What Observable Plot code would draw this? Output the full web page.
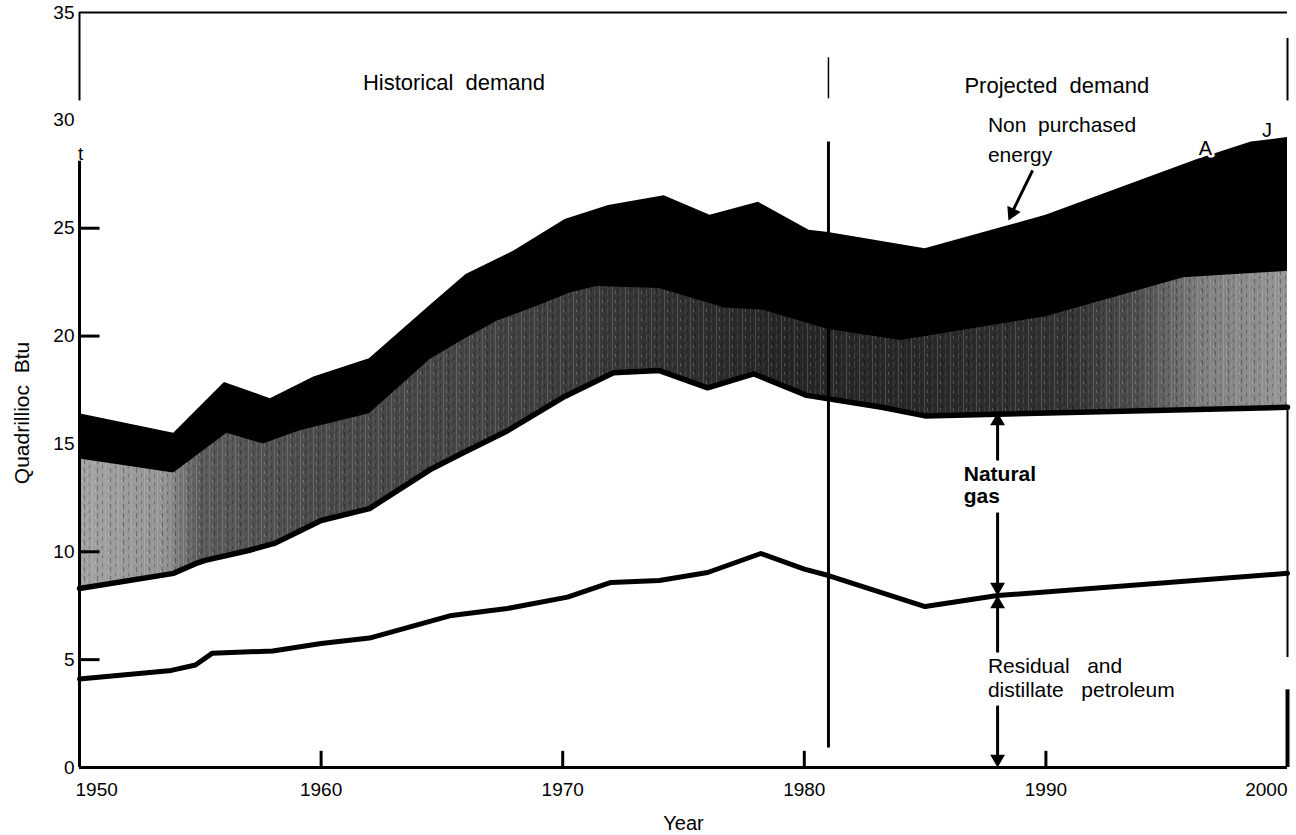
<!DOCTYPE html>
<html>
<head>
<meta charset="utf-8">
<script src="https://cdn.jsdelivr.net/npm/d3@7"></script>
<script src="https://cdn.jsdelivr.net/npm/@observablehq/plot@0.6"></script>
<style>
  html, body { margin: 0; padding: 0; background: #fff; }
  svg { display: block; }
</style>
</head>
<body>
<div id="chart"></div>
<script>
// ---- Data ----
// Total demand (top of the black "non purchased energy" band)
const totalYears  = [1950, 1953.9, 1956, 1957.9, 1959.7, 1962, 1964.5, 1966, 1968, 1970.1, 1971.9, 1974.2, 1976.1, 1978.1, 1980.2, 1981, 1985, 1988.4, 1990, 1996.3, 1998.5, 2000];
const totalValues = [16.4, 15.5, 17.85, 17.1, 18.1, 18.95, 21.4, 22.85, 23.95, 25.4, 26.05, 26.5, 25.6, 26.2, 24.9, 24.8, 24.05, 25.1, 25.6, 28.2, 29.0, 29.2];

// Top of the grey (stippled) band
const greyYears  = [1950, 1953.9, 1956.1, 1957.6, 1959.1, 1962, 1964.5, 1966, 1967.3, 1969, 1970.3, 1971.4, 1974, 1976.7, 1978.3, 1981, 1984, 1990, 1995.7, 2000];
const greyValues = [14.3, 13.65, 15.5, 15.0, 15.6, 16.4, 18.9, 19.9, 20.7, 21.4, 22.0, 22.3, 22.2, 21.3, 21.2, 20.3, 19.8, 20.9, 22.7, 23.0];

// Top of natural gas band
const gasYears  = [1950, 1953.9, 1954.8, 1955.2, 1957, 1958.1, 1960, 1962, 1964.5, 1965.9, 1967.7, 1970, 1972.1, 1974, 1976, 1977.9, 1980.1, 1983.2, 1985, 2000];
const gasValues = [8.3, 9.0, 9.45, 9.6, 10.06, 10.4, 11.45, 12.0, 13.8, 14.6, 15.6, 17.15, 18.3, 18.4, 17.6, 18.25, 17.25, 16.7, 16.3, 16.7];

// Top of residual and distillate petroleum
const petroYears  = [1950, 1953.8, 1954.8, 1955.5, 1958, 1960, 1962, 1965.4, 1967.7, 1970.2, 1972, 1974, 1976, 1978.2, 1980, 1981, 1985, 1988, 2000];
const petroValues = [4.1, 4.5, 4.75, 5.3, 5.4, 5.75, 6.0, 7.05, 7.37, 7.9, 8.58, 8.67, 9.04, 9.92, 9.2, 8.9, 7.46, 7.97, 9.0];

const yTickLabels = [0, 5, 10, 15, 20, 25, 30, 35];
const yTickMarks  = [5, 10, 15, 20, 25];
const xTickLabelsMid = [1960, 1970, 1980, 1990];
const xTickFirst = [1950];
const xTickLast  = [2000];
const xTickMarks = [1960, 1970, 1980, 1990];
const dividerYear = [1981];
const arrowYear = 1988;

// ---- Tables built from the arrays ----
const total = totalYears.map((x, i) => ({x, y: totalValues[i]}));
const grey  = greyYears.map((x, i) => ({x, y: greyValues[i]}));
const gas   = gasYears.map((x, i) => ({x, y: gasValues[i]}));
const petro = petroYears.map((x, i) => ({x, y: petroValues[i]}));

const font = "'Liberation Sans', Arial, Helvetica, sans-serif";
const yr = d => String(d);

const chart = Plot.plot({
  width: 1296,
  height: 835,
  marginLeft: 79,
  marginRight: 9,
  marginTop: 12,
  marginBottom: 68,
  x: {domain: [1950, 2000], axis: null},
  y: {domain: [0, 35], axis: null},
  style: {fontFamily: font, fontSize: "19px", color: "#000", background: "#fff"},
  marks: [
    // bands
    Plot.areaY(total, {x: "x", y1: 0, y2: "y", fill: "#000"}),
    Plot.areaY(grey,  {x: "x", y1: 0, y2: "y", fill: "url(#greyband)"}),
    Plot.areaY(grey,  {x: "x", y1: 0, y2: "y", fill: "url(#streaks)"}),
    Plot.areaY(gas,   {x: "x", y1: 0, y2: "y", fill: "#fff"}),
    Plot.lineY(gas,   {x: "x", y: "y", stroke: "#000", strokeWidth: 5.5, strokeLinejoin: "round"}),
    Plot.lineY(petro, {x: "x", y: "y", stroke: "#000", strokeWidth: 5, strokeLinejoin: "round"}),

    // frame pieces
    Plot.ruleY([0],  {stroke: "#000", strokeWidth: 3}),
    Plot.ruleY([35], {stroke: "#000", strokeWidth: 2}),
    Plot.ruleX([1950], {y1: 0, y2: 28.1, stroke: "#000", strokeWidth: 3}),
    Plot.ruleX([1950], {y1: 30.9, y2: 35, stroke: "#000", strokeWidth: 2}),
    Plot.ruleX([2000], {y1: 0, y2: 3.6, stroke: "#000", strokeWidth: 4}),
    Plot.ruleX([2000], {y1: 5.1, y2: 16.7, stroke: "#000", strokeWidth: 2}),
    Plot.ruleX([2000], {y1: 30.9, y2: 33.8, stroke: "#000", strokeWidth: 2}),
    Plot.ruleX(dividerYear, {y1: 0.9, y2: 29.0, stroke: "#000", strokeWidth: 3}),
    Plot.ruleX(dividerYear, {y1: 31.0, y2: 32.9, stroke: "#000", strokeWidth: 1.5}),

    // ticks
    Plot.ruleY(yTickMarks, {y: d => d, x1: 1950, x2: 1950.85, stroke: "#000", strokeWidth: 3}),
    Plot.ruleX(xTickMarks, {x: d => d, y1: 0, y2: 0.75, stroke: "#000", strokeWidth: 3}),

    // y tick labels
    Plot.text(yTickLabels, {y: d => d, text: yr, frameAnchor: "left", dx: -5, textAnchor: "end", fontSize: 19}),
    // x tick labels
    Plot.text(xTickLabelsMid, {x: d => d, text: yr, frameAnchor: "bottom", dy: 22, lineAnchor: "middle", textAnchor: "middle", fontSize: 19}),
    Plot.text(xTickFirst, {x: d => d, text: yr, frameAnchor: "bottom", dy: 22, dx: -4, lineAnchor: "middle", textAnchor: "start", fontSize: 19}),
    Plot.text(xTickLast, {x: d => d, text: yr, frameAnchor: "bottom", dy: 22, lineAnchor: "middle", textAnchor: "end", fontSize: 19}),
    // axis titles
    Plot.text(["Year"], {frameAnchor: "bottom", dy: 56, lineAnchor: "middle", textAnchor: "middle", fontSize: 20}),
    Plot.text(["Quadrillioc  Btu"], {frameAnchor: "left", dx: -57, dy: 23, rotate: -90, lineAnchor: "middle", textAnchor: "middle", fontSize: 21}),

    // section headings
    Plot.text(["Historical  demand"], {x: 1965.5, y: 31.39, lineAnchor: "bottom", fontSize: 22}),
    Plot.text(["Projected  demand"], {x: 1990.45, y: 31.29, lineAnchor: "bottom", fontSize: 22}),

    // annotations
    Plot.text(["Non  purchased"], {x: 1987.6, y: 29.44, lineAnchor: "bottom", textAnchor: "start", fontSize: 21}),
    Plot.text(["energy"], {x: 1987.6, y: 28.05, lineAnchor: "bottom", textAnchor: "start", fontSize: 21}),
    Plot.text(["Natural"], {x: 1986.6, y: 13.3, lineAnchor: "bottom", textAnchor: "start", fontSize: 21, fontWeight: "bold"}),
    Plot.text(["gas"], {x: 1986.6, y: 12.24, lineAnchor: "bottom", textAnchor: "start", fontSize: 21, fontWeight: "bold"}),
    Plot.text(["Residual   and"], {x: 1987.6, y: 4.4, lineAnchor: "bottom", textAnchor: "start", fontSize: 21}),
    Plot.text(["distillate   petroleum"], {x: 1987.6, y: 3.25, lineAnchor: "bottom", textAnchor: "start", fontSize: 21}),
    Plot.text(["A"], {x: 1996.6, y: 28.4, lineAnchor: "bottom", fontSize: 20, stroke: "#fff", strokeWidth: 5, fill: "#000"}),
    Plot.text(["J"], {x: 1999.15, y: 29.25, lineAnchor: "bottom", fontSize: 20}),
    Plot.text(["t"], {x: 1950.05, y: 28.14, lineAnchor: "bottom", fontSize: 19}),

    // arrows: shafts
    Plot.link([0], {x1: 1989.45, y1: 27.68, x2: 1988.5, y2: 25.5, stroke: "#000", strokeWidth: 3}),
    Plot.link([0], {x1: arrowYear, y1: 14.23, x2: arrowYear, y2: 16.0, stroke: "#000", strokeWidth: 3}),
    Plot.link([0], {x1: arrowYear, y1: 11.82, x2: arrowYear, y2: 8.4, stroke: "#000", strokeWidth: 3}),
    Plot.link([0], {x1: arrowYear, y1: 5.33, x2: arrowYear, y2: 7.5, stroke: "#000", strokeWidth: 3}),
    Plot.link([0], {x1: arrowYear, y1: 2.87, x2: arrowYear, y2: 0.4, stroke: "#000", strokeWidth: 3}),
    // arrows: heads
    Plot.dot([16.46, 7.97], {x: arrowYear, y: d => d, symbol: "triangle", r: 5.5, fill: "#000", stroke: "none", dy: 8.5}),
    Plot.dot([7.97, 0], {x: arrowYear, y: d => d, symbol: "triangle", r: 5.5, fill: "#000", stroke: "none", dy: -8.5, rotate: 180}),
    Plot.dot([25.36], {x: 1988.45, y: d => d, symbol: "triangle", r: 5.5, fill: "#000", stroke: "none", dx: 3.7, dy: -7.7, rotate: 205.7})
  ]
});

// gradient and streak texture used by the grey band
const svg = d3.select(chart);
const defs = svg.insert("defs", ":first-child");
const grad = defs.append("linearGradient").attr("id", "greyband")
  .attr("x1", 0).attr("x2", 1).attr("y1", 0).attr("y2", 0);
[[0, "#a2a2a2"], [0.07, "#949494"], [0.1, "#5a5a5a"], [0.2, "#4a4a4a"], [0.32, "#454545"],
 [0.45, "#363636"], [0.58, "#262626"], [0.72, "#2a2a2a"], [0.82, "#323232"], [0.88, "#505050"],
 [0.93, "#7e7e7e"], [1, "#959595"]]
  .forEach(([o, c]) => grad.append("stop").attr("offset", o).attr("stop-color", c));
const pat = defs.append("pattern").attr("id", "streaks").attr("patternUnits", "userSpaceOnUse")
  .attr("width", 13).attr("height", 9);
pat.append("rect").attr("x", 1).attr("y", 0).attr("width", 1).attr("height", 9).attr("fill", "#fff").attr("opacity", 0.16);
pat.append("rect").attr("x", 4).attr("y", 3).attr("width", 1).attr("height", 3).attr("fill", "#fff").attr("opacity", 0.22);
pat.append("rect").attr("x", 6).attr("y", 0).attr("width", 1).attr("height", 5).attr("fill", "#000").attr("opacity", 0.3);
pat.append("rect").attr("x", 9).attr("y", 2).attr("width", 1).attr("height", 6).attr("fill", "#fff").attr("opacity", 0.1);
pat.append("rect").attr("x", 11).attr("y", 6).attr("width", 1).attr("height", 3).attr("fill", "#000").attr("opacity", 0.25);

document.getElementById("chart").appendChild(chart);
</script>
</body>
</html>
